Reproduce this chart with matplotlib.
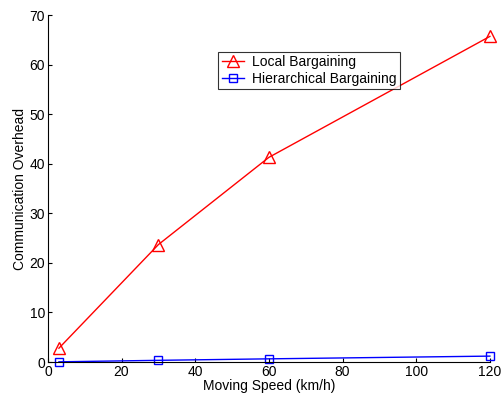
import matplotlib
matplotlib.use("Agg")
import matplotlib.pyplot as plt

plt.rcParams['font.family'] = ['Liberation Sans', 'DejaVu Sans']

speed = [3, 30, 60, 120]
local_bargaining = [2.8, 23.7, 41.3, 65.7]
hier_bargaining = [0.05, 0.35, 0.65, 1.2]

fig = plt.figure(figsize=(5.04, 3.97), dpi=100)
ax = fig.add_axes([0.095, 0.088, 0.877, 0.874])

ax.plot(speed, local_bargaining, color='red', marker='^', markersize=8,
        markerfacecolor='none', markeredgewidth=1.0, linewidth=1.0,
        label='Local Bargaining')
ax.plot(speed, hier_bargaining, color='blue', marker='s', markersize=6,
        markerfacecolor='none', markeredgewidth=1.0, linewidth=1.0,
        label='Hierarchical Bargaining')

ax.set_xlim(0, 120)
ax.set_ylim(0, 70)
ax.set_xticks(range(0, 121, 20))
ax.set_yticks(range(0, 71, 10))
ax.tick_params(direction='in', labelsize=10, length=3, width=0.8, pad=2)
ax.spines['top'].set_visible(False)
ax.spines['right'].set_visible(False)
for line in ax.get_lines():
    line.set_clip_on(False)

ax.set_xlabel('Moving Speed (km/h)', fontsize=10, labelpad=0)
ax.set_ylabel('Communication Overhead', fontsize=10, labelpad=2)

leg = ax.legend(loc='upper left', bbox_to_anchor=(0.385, 0.895), fontsize=10,
                frameon=True, fancybox=False, edgecolor='black',
                borderpad=0.25, labelspacing=0.2, handlelength=1.6,
                handletextpad=0.6, borderaxespad=0)
leg.get_frame().set_linewidth(0.8)

fig.savefig('out.png', dpi=100)
